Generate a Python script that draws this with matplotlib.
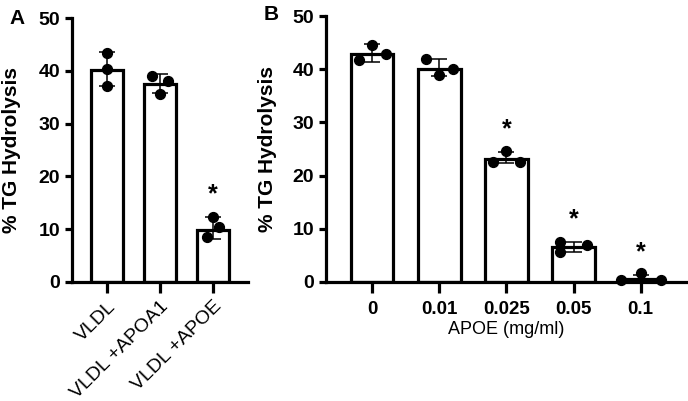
import matplotlib
matplotlib.use("Agg")
import matplotlib.pyplot as plt
import numpy as np

plt.rcParams['font.family'] = ['Liberation Sans', 'DejaVu Sans']

# Panel A
a_labels = ["VLDL", "VLDL +APOA1", "VLDL +APOE"]
a_means = [40.2, 37.6, 9.9]
a_err_lo = [37.2, 35.8, 8.1]
a_err_hi = [43.5, 39.5, 12.3]
a_points = [[43.4, 40.4, 37.2], [39.1, 38.1, 35.6], [12.4, 10.4, 8.5]]
a_jitter = [[0.0, 0.0, 0.0], [-0.15, 0.15, 0.0], [0.0, 0.12, -0.12]]
a_star = [False, False, True]

# Panel B
b_labels = ["0", "0.01", "0.025", "0.05", "0.1"]
b_means = [42.9, 40.1, 23.1, 6.5, 0.5]
b_err_lo = [41.4, 38.8, 22.3, 5.6, 0.0]
b_err_hi = [44.7, 41.9, 24.5, 7.6, 1.4]
b_points = [[44.6, 42.9, 41.7], [42.0, 40.1, 38.9], [24.6, 22.5, 22.5],
            [7.6, 6.9, 5.6], [1.6, 0.4, 0.4]]
b_jitter = [[0.0, 0.2, -0.2], [-0.2, 0.2, 0.0], [0.0, -0.2, 0.2],
            [-0.2, 0.2, -0.2], [0.0, -0.3, 0.3]]
b_star = [False, False, True, True, True]

LW = 2.3


def draw_panel(ax, labels, means, lo, hi, points, jitter, star, width):
    x = np.arange(len(labels))
    ax.bar(x, means, width=width, color='white', edgecolor='black', linewidth=LW, zorder=2)
    yerr = [np.array(means) - np.array(lo), np.array(hi) - np.array(means)]
    ax.errorbar(x, means, yerr=yerr, fmt='none', ecolor='black', elinewidth=1.1,
                capsize=5.5, capthick=1.1, zorder=3)
    for i in range(len(labels)):
        ax.scatter(x[i] + np.array(jitter[i]), points[i], s=50, color='black',
                   zorder=4, clip_on=False)
        if star[i]:
            ax.text(x[i], hi[i] + 2.0, "*", ha='center', va='bottom',
                    fontsize=18, fontweight='bold')
    ax.set_ylim(0, 50)
    ax.set_yticks([0, 10, 20, 30, 40, 50])
    ax.spines['top'].set_visible(False)
    ax.spines['right'].set_visible(False)
    ax.spines['left'].set_linewidth(LW)
    ax.spines['bottom'].set_linewidth(LW)
    ax.tick_params(axis='y', width=LW, length=5, labelsize=14)
    ax.tick_params(axis='x', width=LW, length=8)
    for t in ax.get_yticklabels():
        t.set_fontweight('bold')
    ax.set_ylabel("% TG Hydrolysis", fontsize=15, fontweight='bold')
    ax.set_xticks(x)
    return x


fig = plt.figure(figsize=(6.88, 4.01), dpi=100)

axA = fig.add_axes([0.1047, 0.2968, 0.2558, 0.658])
draw_panel(axA, a_labels, a_means, a_err_lo, a_err_hi, a_points, a_jitter, a_star, 0.62)
axA.set_xlim(-0.66, 2.66)
axA.set_xticklabels(a_labels, rotation=45, ha='right', rotation_mode='anchor',
                    fontsize=14)
axA.yaxis.set_label_coords(-0.29, 0.5)

axB = fig.add_axes([0.4738, 0.2968, 0.5247, 0.663])
draw_panel(axB, b_labels, b_means, b_err_lo, b_err_hi, b_points, b_jitter, b_star, 0.63)
axB.set_xlim(-0.69, 4.69)
axB.set_xticklabels(b_labels, fontsize=13.5, fontweight='bold')
axB.tick_params(axis='x', pad=6)
axB.set_xlabel("APOE (mg/ml)", fontsize=13, labelpad=2)
axB.yaxis.set_label_coords(-0.135, 0.5)

fig.text(0.014, 0.955, "A", fontsize=15, fontweight='bold', va='center')
fig.text(0.383, 0.963, "B", fontsize=15, fontweight='bold', va='center')

fig.savefig("out.png", dpi=100)
